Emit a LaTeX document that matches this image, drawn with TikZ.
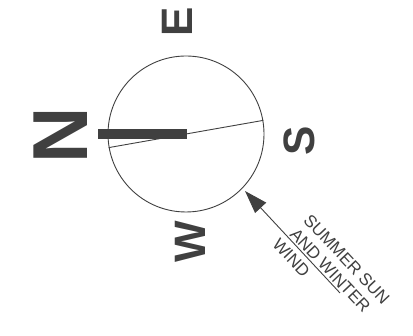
\documentclass[tikz,border=0pt]{standalone}
\usepackage{fontspec}
\setmainfont{Liberation Sans}
\usetikzlibrary{arrows.meta,calc}
\definecolor{ink}{RGB}{64,64,64}
\begin{document}
\begin{tikzpicture}[x=1pt,y=1pt,
  compassletter/.style={text=ink, font=\bfseries\fontsize{44}{44}\selectfont, inner sep=0pt, rotate=90},
  bigletter/.style={compassletter, font=\bfseries\fontsize{78}{78}\selectfont},
  thinline/.style={draw=ink, line width=0.9pt},
  windtext/.style={text=ink, font=\fontsize{17}{19.5}\selectfont, inner sep=0pt, anchor=base west, rotate=-46.75}]
\useasboundingbox (0,0) rectangle (413,336);
\coordinate (c) at (186,202);
\node[circle, thinline, minimum size=156pt, inner sep=0pt] (compass) at (c) {};
\coordinate (bl) at (98,202);
\coordinate (br) at (187,202);
\draw[ink, line width=10pt] (bl) -- (br);
\draw[thinline] (compass.190.8) -- (compass.10.8);
\node[bigletter] (N) at (61,201) {N};
\node[compassletter] (E) at (177.5,314.5) {E};
\node[compassletter] (S) at (299.5,195.5) {S};
\node[compassletter] (W) at (190.5,94) {W};
\coordinate (tail) at (340,43);
\coordinate (tip) at (245,145);
\draw[thinline, -{Triangle[length=23pt,width=15pt]}] (tail) -- (tip);
\node[windtext] (t1) at ($(tail)+(-46.75:-78)+(43.25:22)$) {SUMMER SUN};
\node[windtext] (t2) at ($(tail)+(-46.75:-77)+(43.25:2.5)$) {AND WINTER};
\node[windtext] (t3) at ($(tail)+(-46.75:-82)+(43.25:-17)$) {WIND};
\end{tikzpicture}
\end{document}
